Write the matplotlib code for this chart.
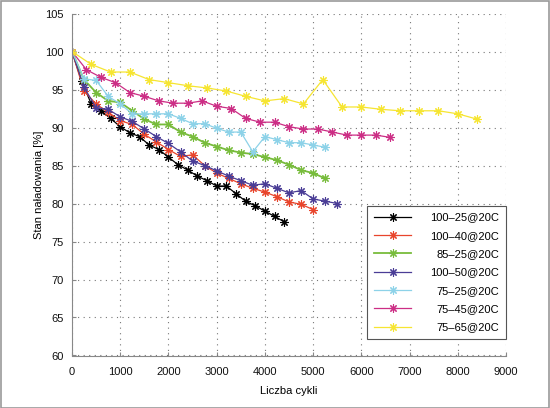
import matplotlib
matplotlib.use("Agg")
import matplotlib.pyplot as plt

plt.rcParams['font.family'] = ['Liberation Sans', 'DejaVu Sans']
plt.rcParams['font.size'] = 8

# cycle counts for each test
cycles_100_25 = [0, 200, 400, 600, 800, 1000, 1200, 1400, 1600, 1800, 2000, 2200,
                 2400, 2600, 2800, 3000, 3200, 3400, 3600, 3800, 4000, 4200, 4400]
cycles_100_40 = [0, 250, 500, 750, 1000, 1250, 1500, 1750, 2000, 2250, 2500,
                 2750, 3000, 3250, 3500, 3750, 4000, 4250, 4500, 4750, 5000]
cycles_85_25 = [0, 250, 500, 750, 1000, 1250, 1500, 1750, 2000, 2250, 2500,
                2750, 3000, 3250, 3500, 3750, 4000, 4250, 4500, 4750, 5000, 5250]
cycles_100_50 = [0, 250, 500, 750, 1000, 1250, 1500, 1750, 2000, 2250, 2500,
                 2750, 3000, 3250, 3500, 3750, 4000, 4250, 4500, 4750, 5000, 5250, 5500]
cycles_75_25 = [0, 250, 500, 750, 1000, 1250, 1500, 1750, 2000, 2250, 2500,
                2750, 3000, 3250, 3500, 3750, 4000, 4250, 4500, 4750, 5000, 5250]
cycles_75_45 = [0, 300, 600, 900, 1200, 1500, 1800, 2100, 2400, 2700, 3000, 3300,
                3600, 3900, 4200, 4500, 4800, 5100, 5400, 5700, 6000, 6300, 6600]
cycles_75_65 = [0, 400, 800, 1200, 1600, 2000, 2400, 2800, 3200, 3600, 4000,
                4400, 4800, 5200, 5600, 6000, 6400, 6800, 7200, 7600, 8000, 8400]

# state of charge [%]
soc_100_25 = [100, 96.1, 93.1, 92.2, 91.2, 90.1, 89.3, 88.8, 87.7, 87.1, 86.1, 85.1,
              84.4, 83.6, 83.0, 82.3, 82.3, 81.3, 80.3, 79.7, 79.0, 78.3, 77.6]
soc_100_40 = [100, 94.8, 93.1, 92.0, 90.9, 90.4, 89.1, 88.1, 87.1, 86.2, 86.4,
              85.0, 84.0, 83.3, 82.6, 82.0, 81.5, 80.9, 80.2, 79.9, 79.2]
soc_85_25 = [100, 96.3, 94.6, 93.5, 93.3, 92.2, 91.1, 90.4, 90.4, 89.4, 88.8,
             88.0, 87.5, 87.0, 86.7, 86.5, 86.1, 85.7, 85.1, 84.4, 84.0, 83.3]
soc_100_50 = [100, 95.3, 92.6, 92.4, 91.4, 90.8, 89.8, 88.8, 87.9, 86.8, 85.6,
              85.0, 84.3, 83.6, 83.0, 82.4, 82.6, 82.0, 81.4, 81.7, 80.6, 80.3, 80.0]
soc_75_25 = [100, 96.4, 96.2, 94.1, 93.1, 91.8, 91.8, 91.8, 91.8, 91.2, 90.5,
             90.5, 89.9, 89.4, 89.4, 86.8, 88.8, 88.4, 88.0, 88.0, 87.7, 87.4]
soc_75_45 = [100, 97.6, 96.6, 95.9, 94.6, 94.1, 93.5, 93.2, 93.2, 93.5, 92.8, 92.5,
             91.2, 90.7, 90.7, 90.1, 89.8, 89.8, 89.4, 89.0, 89.0, 89.0, 88.7]
soc_75_65 = [100, 98.3, 97.3, 97.3, 96.3, 95.9, 95.5, 95.2, 94.8, 94.1, 93.5,
             93.8, 93.1, 96.3, 92.7, 92.7, 92.4, 92.2, 92.2, 92.2, 91.8, 91.1]

labels = ['100\u201325@20C', '100\u201340@20C', '85\u201325@20C', '100\u201350@20C',
          '75\u201325@20C', '75\u201345@20C', '75\u201365@20C']
colors = ['#000000', '#e8452c', '#78bc3c', '#4a3d96', '#8dd2e8', '#cc2e85', '#f6e532']

all_cycles = [cycles_100_25, cycles_100_40, cycles_85_25, cycles_100_50,
              cycles_75_25, cycles_75_45, cycles_75_65]
all_soc = [soc_100_25, soc_100_40, soc_85_25, soc_100_50,
           soc_75_25, soc_75_45, soc_75_65]

fig = plt.figure(figsize=(5.5, 4.08), dpi=100)
ax = fig.add_axes([72 / 550, 1 - 355.5 / 408, 434 / 550, 342 / 408])

for x, y, lab, col in zip(all_cycles, all_soc, labels, colors):
    lw = 1.3 if col == '#78bc3c' else 0.9
    ax.plot(x, y, color=col, linewidth=lw, marker=(8, 2, 0), markersize=6,
            markeredgewidth=0.8, label=lab)

ax.set_xlim(0, 9000)
ax.set_ylim(60, 105)
ax.set_xticks(range(0, 9001, 1000))
ax.set_yticks(range(60, 106, 5))
ax.grid(True, linestyle=(0, (1, 4)), color='#777777', linewidth=0.8)
ax.set_axisbelow(True)
for s in ['top', 'right']:
    ax.spines[s].set_visible(False)
for s in ['left', 'bottom']:
    ax.spines[s].set_color('#888888')
ax.tick_params(direction='in', length=3, color='#888888', labelcolor='#111111')
ax.tick_params(axis='y', pad=6)
ax.tick_params(axis='x', pad=8)

ax.set_xlabel('Liczba cykli', labelpad=7)
ax.set_ylabel('Stan naładowania [%]', labelpad=1)

leg = ax.legend(loc='lower right', bbox_to_anchor=(1.0, 0.048), borderaxespad=0,
                fancybox=False, edgecolor='#555555', framealpha=1,
                handlelength=3.4, handletextpad=1.7, labelspacing=0.75,
                borderpad=0.6)
leg.get_frame().set_linewidth(0.8)

# right-align legend texts
fig.canvas.draw()
renderer = fig.canvas.get_renderer()
widths = [t.get_window_extent(renderer).width for t in leg.get_texts()]
shift = max(widths)
for t, w in zip(leg.get_texts(), widths):
    t.set_position((shift - w, 0))

fig.patches.append(plt.Rectangle((0.001, 0.001), 0.997, 0.997, transform=fig.transFigure,
                                 fill=False, edgecolor='#999999', linewidth=1.2))

fig.savefig('out.png', dpi=100)
